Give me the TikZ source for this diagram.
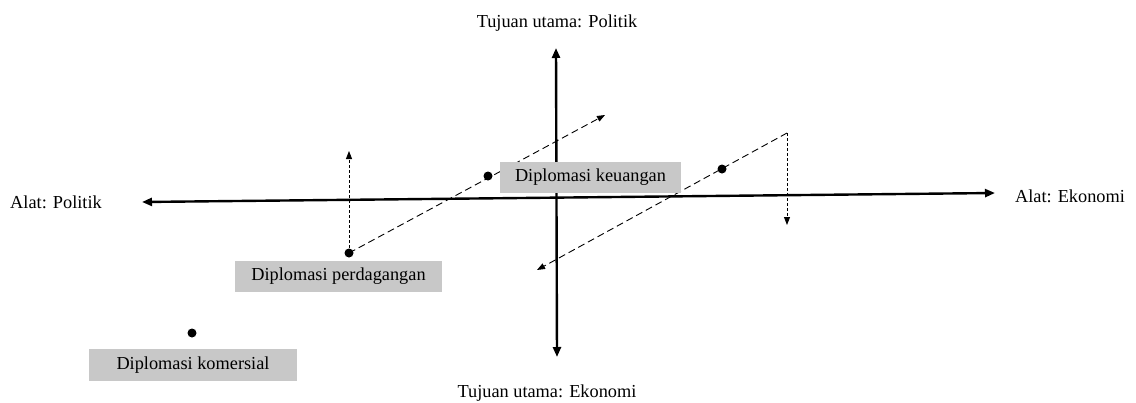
\documentclass[tikz,border=0pt]{standalone}
\usepackage{fontspec}
\setmainfont{Liberation Serif}
\usetikzlibrary{arrows.meta}
\definecolor{boxgray}{RGB}{200,200,200}
\begin{document}
\begin{tikzpicture}[x=1pt,y=-1pt,
  lbl/.style={font=\fontsize{18.3}{20}\selectfont, inner sep=0pt, anchor=base},
  graybox/.style={fill=boxgray, inner sep=0pt, font=\fontsize{18.3}{20}\selectfont},
  dotnode/.style={circle, fill=black, inner sep=0pt, minimum size=9pt},
  axis/.style={line width=2.4pt, {Triangle[length=10pt,width=8pt]}-{Triangle[length=10pt,width=8pt]}},
  dashline/.style={line width=0.9pt, dash pattern=on 7pt off 4pt, -{Triangle[length=8pt,width=6pt]}},
  dotline/.style={line width=0.9pt, dash pattern=on 3pt off 2pt, -{Triangle[length=8pt,width=6pt]}}
]
\useasboundingbox (0,0) rectangle (1136,402);
% axes
\coordinate (hL) at (142,202);
\coordinate (hR) at (995,193);
\coordinate (vT) at (556,48);
\coordinate (vB) at (557,357);
\draw[axis] (hL) -- (hR);
\draw[axis] (vB) -- (vT);
% dot positions
\coordinate (pP) at (349,253);
\coordinate (pK) at (488,176);
\coordinate (pE) at (722,169);
\coordinate (pC) at (192,333);
\coordinate (c2) at (787,133);
\coordinate (t1) at (605,115);
\coordinate (t2) at (537,270);
\coordinate (t3) at (349,151);
\coordinate (t4) at (787,225);
% dashed connectors
\draw[dashline] (pP) -- (t1);
\draw[dashline] (c2) -- (t2);
\draw[dotline] (pP) -- (t3);
\draw[dotline] (c2) -- (t4);
% boxes
\node[graybox, minimum width=181pt, minimum height=31pt] (bK) at (590.5,177.5) {Diplomasi keuangan};
\node[graybox, minimum width=207pt, minimum height=31pt] (bP) at (338.5,276.5) {Diplomasi perdagangan};
\node[graybox, minimum width=208pt, minimum height=32pt] (bC) at (193,365) {Diplomasi komersial};
% dots
\node[dotnode] (dP) at (pP) {};
\node[dotnode] (dK) at (pK) {};
\node[dotnode] (dE) at (pE) {};
\node[dotnode] (dC) at (pC) {};
% labels
\node[lbl] (lT) at (557,27) {Tujuan utama: Politik};
\node[lbl] (lB) at (547,397) {Tujuan utama: Ekonomi};
\node[lbl] (lL) at (56,208) {Alat: Politik};
\node[lbl] (lR) at (1070,202) {Alat: Ekonomi};
\end{tikzpicture}
\end{document}
